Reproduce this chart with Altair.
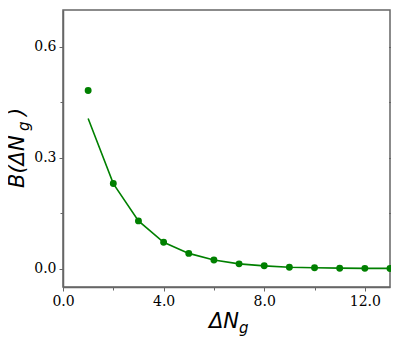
import altair as alt
import pandas as pd

x_vals = [1, 2, 3, 4, 5, 6, 7, 8, 9, 10, 11, 12, 13]
point_vals = [0.482, 0.23, 0.129, 0.071, 0.041, 0.023, 0.0127, 0.0073, 0.0036, 0.002, 0.001, 0.0005, 0.0003]
line_vals = [0.406, 0.23, 0.129, 0.071, 0.041, 0.023, 0.0127, 0.0073, 0.0036, 0.002, 0.001, 0.0005, 0.0003]
x_ticks = list(range(0, 14))
x_labels = [0, 4, 8, 12]
y_ticks = [0.0, 0.15, 0.3, 0.45, 0.6]
y_labels = [0.0, 0.3, 0.6]

df = pd.DataFrame({"x": x_vals, "p": point_vals, "l": line_vals})

GREEN = "#008000"
AX = "#666666"
L = 55
W = 327
H = 277

xlab_test = " || ".join(f"datum.value == {v}" for v in x_labels)
ylab_test = " || ".join(f"abs(datum.value - {v}) < 0.001" for v in y_labels)

xscale = alt.Scale(domain=[0, 13], nice=False, zero=False)
yscale = alt.Scale(domain=[-0.05, 0.7], nice=False, zero=False)

xaxis = alt.Axis(
    values=x_ticks, title=None, grid=False,
    labelExpr=f"({xlab_test}) ? format(datum.value, '.1f') : ''",
    labelFont="DejaVu Serif", labelFontSize=14, labelColor="black",
    domainColor=AX, domainWidth=1.5, tickColor=AX,
    tickSize={"condition": {"test": xlab_test, "value": 4}, "value": 3},
    labelPadding=3, labelFlush=False, labelOverlap=False,
)
yaxis = alt.Axis(
    orient="left", values=y_ticks, title=None, grid=False,
    labelExpr=f"({ylab_test}) ? format(datum.value, '.1f') : ''",
    labelFont="DejaVu Serif", labelFontSize=14, labelColor="black",
    domainColor=AX, domainWidth=1.5, tickColor=AX,
    tickSize={"condition": {"test": ylab_test, "value": 4}, "value": 3},
    labelPadding=3, labelFlush=False, labelOverlap=False,
)
yaxis_r = alt.Axis(
    orient="right", values=y_ticks, title=None, grid=False, labels=False,
    domain=False, tickColor=AX, tickSize=3, offset=-1.5,
)

base = alt.Chart(df)

line = base.mark_line(color=GREEN, strokeWidth=1.6, clip=False).encode(
    x=alt.X("x:Q", scale=xscale, axis=xaxis),
    y=alt.Y("l:Q", scale=yscale, axis=yaxis),
)
right_ticks = base.mark_circle(opacity=0).encode(
    x=alt.X("x:Q", scale=xscale),
    y=alt.Y("p:Q", scale=yscale, axis=yaxis_r),
)
points = base.mark_circle(color=GREEN, size=48, opacity=1, clip=False).encode(
    x=alt.X("x:Q", scale=xscale),
    y=alt.Y("p:Q", scale=yscale, axis=None),
)

title_font = "DejaVu Sans"
xt1 = alt.Chart(pd.DataFrame({"t": ["ΔN"]})).mark_text(
    font=title_font, fontSize=21, fontStyle="italic", align="right", baseline="alphabetic", color="black"
).encode(text="t:N", x=alt.value(176), y=alt.value(318))
xt2 = alt.Chart(pd.DataFrame({"t": ["g"]})).mark_text(
    font=title_font, fontSize=15, fontStyle="italic", align="left", baseline="alphabetic", color="black"
).encode(text="t:N", x=alt.value(176), y=alt.value(323))

yt1 = alt.Chart(pd.DataFrame({"t": ["B(ΔN"]})).mark_text(
    font=title_font, fontSize=21, fontStyle="italic", align="left", baseline="alphabetic", angle=270, color="black"
).encode(text="t:N", x=alt.value(-39), y=alt.value(178))
yt2 = alt.Chart(pd.DataFrame({"t": ["g"]})).mark_text(
    font=title_font, fontSize=15, fontStyle="italic", align="left", baseline="alphabetic", angle=270, color="black"
).encode(text="t:N", x=alt.value(-34), y=alt.value(121))
yt3 = alt.Chart(pd.DataFrame({"t": [")"]})).mark_text(
    font=title_font, fontSize=21, fontStyle="italic", align="left", baseline="alphabetic", angle=270, color="black"
).encode(text="t:N", x=alt.value(-39), y=alt.value(106))

chart = alt.layer(line, right_ticks, points, xt1, xt2, yt1, yt2, yt3).resolve_axis(
    y="independent"
).properties(
    width=W, height=H,
    autosize=alt.AutoSizeParams(type="none"),
    padding={"left": L, "top": 2, "right": 1, "bottom": 55},
).configure_view(stroke=AX, strokeWidth=1.5)

chart.save("out.html", embed_options={"renderer": "svg", "actions": False})
